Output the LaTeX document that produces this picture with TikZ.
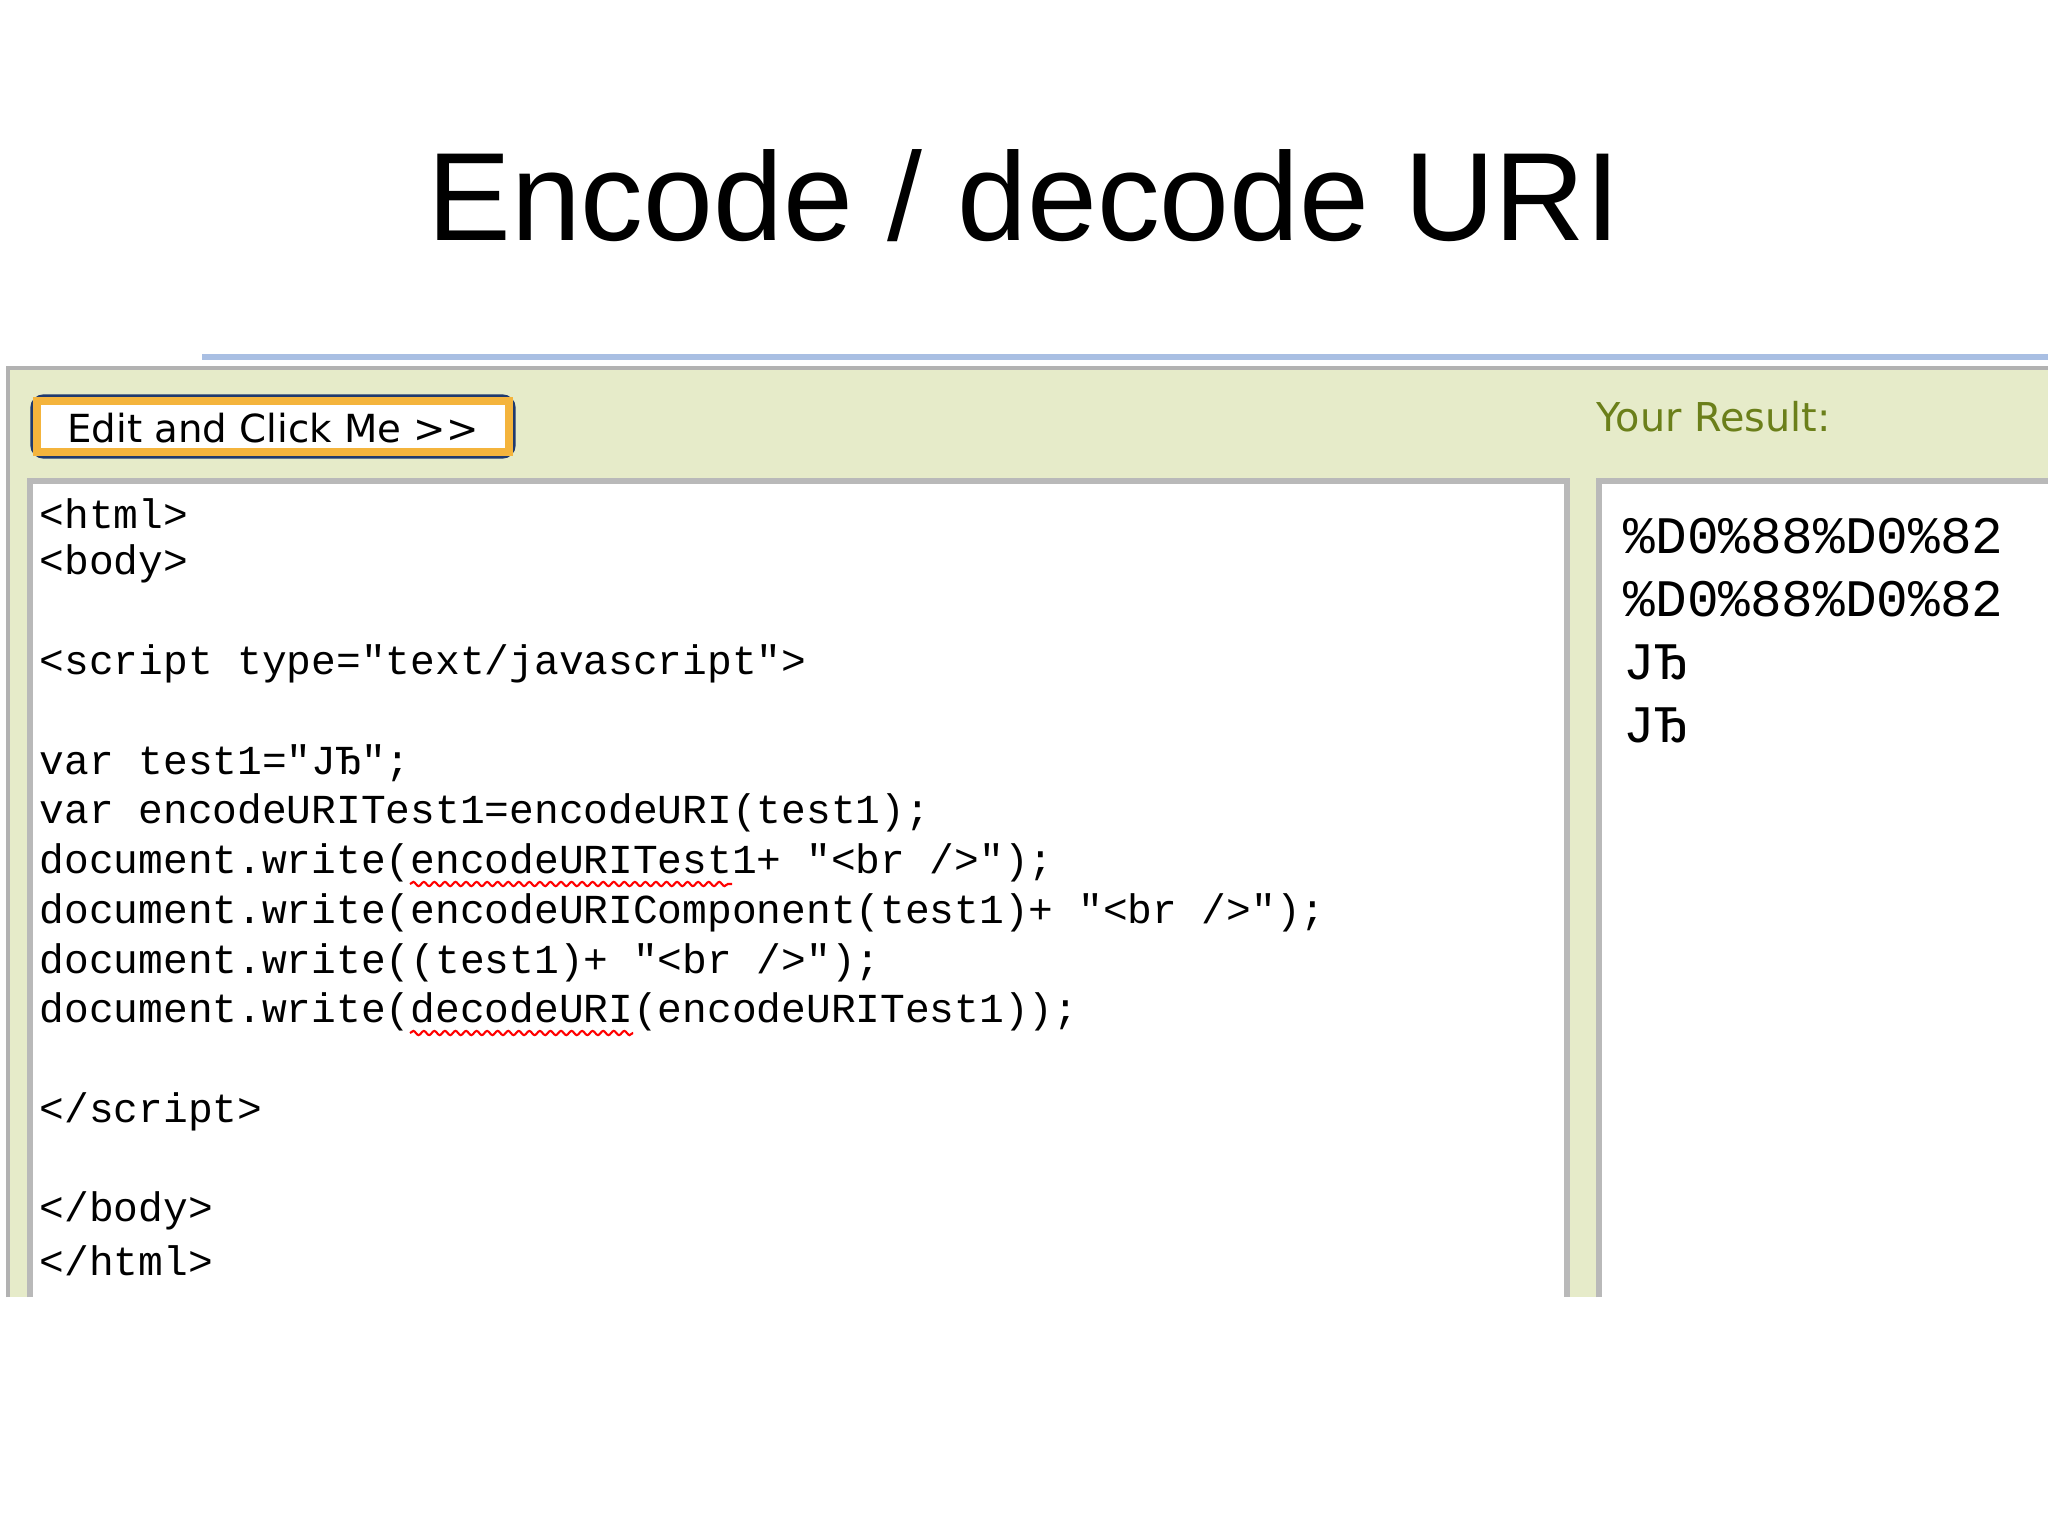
\documentclass[tikz,border=0pt]{standalone}
\usepackage{fontspec}
\setmainfont{Liberation Sans}
\newfontfamily\codefont{Liberation Mono}
\newfontfamily\verd{DejaVu Sans}
\usetikzlibrary{decorations.pathmorphing}
\definecolor{panel}{HTML}{E6EBC9}
\definecolor{olive}{HTML}{6B7F1A}
\definecolor{navy}{HTML}{1F3A6E}
\definecolor{btnor}{HTML}{F4B43C}
\definecolor{bline}{HTML}{A9BFE3}
\tikzset{
  code/.style={anchor=west,inner sep=0pt,font=\codefont\fontsize{11.72pt}{13pt}\selectfont},
  res/.style={anchor=west,inner sep=0pt,font=\codefont\fontsize{15pt}{17pt}\selectfont},
  squig/.style={red,line width=0.6pt,decorate,decoration={snake,amplitude=0.6pt,segment length=3pt}},
  boxline/.style={gray!55,line width=1.5pt}
}
\begin{document}
\begin{tikzpicture}[x=0.01cm,y=-0.01cm]
\useasboundingbox (0,0) rectangle (2048,1536);
\fill[white] (0,0) rectangle (2048,1536);
\node[font=\fontsize{35.7pt}{42pt}\selectfont] (title) at (1024,196) {Encode / decode URI};
% blue top line
\fill[bline] (202,354) rectangle (2048,360);
\fill[panel] (8,368) rectangle (2048,1297);
\draw[gray!60,line width=1.2pt] (8,1297) -- (8,368) -- (2048,368);
% button
\draw[navy,line width=1.5pt,rounded corners=3pt,fill=white] (33,397) rectangle (513,456);
\draw[btnor,line width=2pt] (37,401) rectangle (509,452);
\node[font=\verd\fontsize{11pt}{13pt}\selectfont,inner sep=0pt] (btn) at (273,428) {Edit and Click Me >>};
\node[font=\verd\fontsize{11.3pt}{13pt}\selectfont,text=olive,anchor=west,inner sep=0pt] (yr) at (1596,417) {Your Result:};
% code box
\fill[white] (30,481) rectangle (1567,1297);
\draw[boxline] (30,1297) -- (30,481) -- (1567,481) -- (1567,1297);
\fill[white] (1599,481) rectangle (2048,1297);
\draw[boxline] (1599,1297) -- (1599,481) -- (2048,481);
% code
\node[code] (l1) at (39,514) {<html>};
\node[code] (l2) at (39,564) {<body>};
\node[code] (l4) at (39,664) {<script type="text/javascript">};
\node[code] (l6) at (39,763) {var test1="ЈЂ";};
\node[code] (l7) at (39,813) {var encodeURITest1=encodeURI(test1);};
\node[code] (l8) at (39,863) {document.write(encodeURITest1+ "<br />");};
\node[code] (l9) at (39,913) {document.write(encodeURIComponent(test1)+ "<br />");};
\node[code] (l10) at (39,963) {document.write((test1)+ "<br />");};
\node[code] (l11) at (39,1012) {document.write(decodeURI(encodeURITest1));};
\node[code] (l13) at (39,1112) {</script>};
\node[code] (l15) at (39,1211) {</body>};
\node[code] (l16) at (39,1261) {</html>};
\coordinate (s1a) at (410,884); \coordinate (s1b) at (732,884);
\coordinate (s2a) at (410,1033); \coordinate (s2b) at (633,1033);
\draw[squig] (s1a) -- (s1b);
\draw[squig] (s2a) -- (s2b);
% results
\node[res] (r1) at (1623,536) {\%D0\%88\%D0\%82};
\node[res] (r2) at (1623,599) {\%D0\%88\%D0\%82};
\node[res] (r3) at (1623,662) {ЈЂ};
\node[res] (r4) at (1623,725) {ЈЂ};
\end{tikzpicture}
\end{document}
